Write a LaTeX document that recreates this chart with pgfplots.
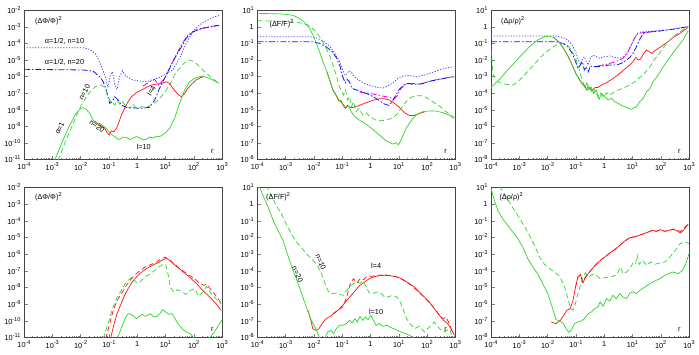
\documentclass[border=0pt]{standalone}
\usepackage{fontspec}
\setmainfont{Liberation Sans}
\usepackage{pgfplots}
\pgfplotsset{compat=1.18}
\newcommand\sps[1]{\raisebox{0.42em}{\fontsize{5.6}{6}\selectfont #1}}
\definecolor{colg}{RGB}{40,215,40}
\definecolor{colr}{RGB}{250,20,20}
\definecolor{colb}{RGB}{20,20,235}
\definecolor{colbl}{RGB}{70,70,245}
\definecolor{colm}{RGB}{235,0,235}
\definecolor{colax}{RGB}{70,70,70}
\tikzset{
 gs/.style={colg, line width=0.7pt},
 gd/.style={colg, line width=0.7pt, dash pattern=on 5pt off 3pt},
 rs/.style={colr, line width=0.7pt},
 rd/.style={colr, line width=0.7pt, dash pattern=on 5pt off 3pt},
 bdot/.style={colbl, line width=0.8pt, dash pattern=on 1.2pt off 1.6pt},
 bdd/.style={colb, line width=0.8pt, dash pattern=on 6pt off 2pt on 1.5pt off 2pt},
 mdd/.style={colm, line width=0.8pt, dash pattern=on 6pt off 2pt on 1.5pt off 2pt},
 lab/.style={font=\fontsize{7.3}{8}\selectfont, inner sep=0pt},
}
\begin{document}
\begin{tikzpicture}
\useasboundingbox (0,0) rectangle (699pt,354pt);
%================ P1 =================
\begin{axis}[scale only axis, anchor=south west, at={(24pt,194.5pt)}, width=198pt, height=149.5pt,
  xmode=log, ymode=log, xmin=1e-4, xmax=1e3,
  xtick={1e-4,1e-3,1e-2,1e-1,1,1e1,1e2,1e3},
  xticklabels={10\sps{-4},10\sps{-3},10\sps{-2},10\sps{-1},1,10\sps{1},10\sps{2},10\sps{3}},
  ymin=1e-11, ymax=1e-2,
  ytick={1e-11,1e-10,1e-9,1e-8,1e-7,1e-6,1e-5,1e-4,1e-3,1e-2},
  yticklabels={10\sps{-11},10\sps{-10},10\sps{-9},10\sps{-8},10\sps{-7},10\sps{-6},10\sps{-5},10\sps{-4},10\sps{-3},10\sps{-2}},
  tick label style={font=\fontsize{7.3}{8}\selectfont},
  xtick pos=left, ytick pos=left, yminorticks=false,
  tick align=inside, major tick length=4pt, minor tick length=2pt,
  axis line style={line width=0.6pt, colax}, clip mode=individual]
\addplot[bdot] table[x expr={pow(10,\thisrowno{0})},y expr={pow(10,\thisrowno{1})}] {
-4 -4.27
-1.91 -4.27
-1.67 -4.37
-1.44 -4.71
-1.26 -5.41
-1.11 -6.12
-1.03 -6.66
-0.95 -5.92
-0.87 -5.72
-0.79 -6.52
-0.71 -6.78
-0.62 -6.02
-0.52 -5.66
-0.40 -5.98
-0.15 -6.22
0.32 -6.32
0.79 -6.06
1.26 -5.61
1.50 -4.91
1.73 -4.01
1.97 -3.31
2.20 -2.90
2.44 -2.64
2.68 -2.44
2.90 -2.33
};
\addplot[mdd] table[x expr={pow(10,\thisrowno{0})},y expr={pow(10,\thisrowno{1})}] {
0.21 -6.58
0.44 -6.32
0.62 -6.18
0.77 -6.52
0.97 -6.12
1.26 -5.11
1.56 -4.11
1.79 -3.51
2.09 -3.20
2.44 -3.04
2.90 -2.90
};
\addplot[bdd] table[x expr={pow(10,\thisrowno{0})},y expr={pow(10,\thisrowno{1})}] {
-4 -5.57
-1.91 -5.61
-1.56 -5.68
-1.32 -6.02
-1.20 -6.32
-1.09 -6.82
-0.97 -7.62
-0.87 -7.52
-0.79 -7.22
-0.67 -7.42
-0.56 -7.72
-0.38 -7.86
0.09 -7.92
0.44 -7.86
0.62 -7.42
0.79 -6.72
1.03 -5.92
1.26 -5.11
1.50 -4.41
1.73 -3.71
1.97 -3.31
2.32 -3.10
2.68 -3.00
2.90 -2.92
};
\addplot[rs] table[x expr={pow(10,\thisrowno{0})},y expr={pow(10,\thisrowno{1})}] {
-1.50 -8.67
-1.38 -8.87
-1.26 -8.99
-1.14 -9.13
-1.06 -9.39
-0.99 -9.53
-0.91 -9.27
-0.83 -9.33
-0.73 -9.13
-0.64 -8.73
-0.56 -8.33
-0.44 -7.92
-0.32 -7.52
-0.20 -7.22
-0.03 -6.98
0.15 -6.82
0.32 -6.66
0.50 -6.52
0.68 -6.46
0.85 -6.42
1.03 -6.32
1.15 -6.42
1.24 -6.66
1.36 -6.92
1.48 -7.12
1.56 -7.22
1.68 -7.02
1.79 -6.72
1.95 -6.42
2.11 -6.18
2.26 -6.06
2.38 -6.00
};
\addplot[gd] table[x expr={pow(10,\thisrowno{0})},y expr={pow(10,\thisrowno{1})}] {
-2.79 -11.04
-2.56 -10.03
-2.36 -9.23
-2.14 -8.33
-1.97 -7.72
-1.79 -7.22
-1.62 -6.82
-1.44 -6.58
-1.26 -6.52
-1.14 -6.66
-1.06 -7.02
-0.97 -7.42
-0.87 -7.58
-0.79 -7.72
-0.71 -7.42
-0.62 -7.66
-0.52 -7.52
-0.40 -7.78
-0.26 -7.92
-0.15 -7.66
-0.03 -7.92
0.15 -7.82
0.32 -7.86
0.50 -7.72
0.68 -7.52
0.85 -7.22
1.03 -6.82
1.17 -6.42
1.32 -5.92
1.50 -5.51
1.68 -5.17
1.82 -5.01
1.97 -5.07
2.15 -5.31
2.32 -5.61
2.56 -5.98
2.79 -6.28
2.90 -6.42
};
\addplot[gs] table[x expr={pow(10,\thisrowno{0})},y expr={pow(10,\thisrowno{1})}] {
-2.95 -11.2
-2.67 -10.03
-2.44 -9.13
-2.20 -8.33
-2.03 -7.98
-1.93 -7.88
-1.81 -7.96
-1.67 -8.23
-1.56 -8.63
-1.44 -8.79
-1.32 -8.83
-1.18 -8.99
-1.06 -9.19
-0.95 -9.43
-0.79 -9.63
-0.70 -9.75
-0.62 -9.79
-0.50 -9.65
-0.38 -9.67
-0.26 -9.80
-0.15 -9.73
-0.03 -9.62
0.09 -9.70
0.21 -9.82
0.32 -9.79
0.44 -9.64
0.56 -9.71
0.68 -9.60
0.79 -9.63
0.97 -9.43
1.15 -9.13
1.32 -8.53
1.50 -7.62
1.68 -6.82
1.85 -6.32
2.09 -6.06
2.32 -5.98
2.56 -6.12
2.79 -6.32
2.90 -6.42
};
\node[lab, anchor=west] at (rel axis cs:0.055,0.925) {(ΔΦ/Φ)\sps{2}};
\node[lab, anchor=west] at (rel axis cs:0.105,0.79) {α=1/2, n=10};
\node[lab, anchor=west] at (rel axis cs:0.105,0.65) {α=1/2, n=20};
\node[lab, rotate=63] at (rel axis cs:0.305,0.45) {n=10};
\node[lab, rotate=65] at (rel axis cs:0.18,0.21) {α=1};
\node[lab, rotate=-37] at (rel axis cs:0.369,0.224) {n=20};
\node[lab, rotate=60] at (rel axis cs:0.643,0.46) {l=4};
\node[lab] at (rel axis cs:0.605,0.086) {l=10};
\node[lab] at (rel axis cs:0.951,0.05) {r};
\end{axis}
%================ P2 =================
\begin{axis}[scale only axis, anchor=south west, at={(257.3pt,194.5pt)}, width=198pt, height=149.5pt,
  xmode=log, ymode=log, xmin=1e-4, xmax=1e3,
  xtick={1e-4,1e-3,1e-2,1e-1,1,1e1,1e2,1e3},
  xticklabels={10\sps{-4},10\sps{-3},10\sps{-2},10\sps{-1},1,10\sps{1},10\sps{2},10\sps{3}},
  ymin=1e-8, ymax=10,
  ytick={1e-8,1e-7,1e-6,1e-5,1e-4,1e-3,1e-2,1e-1,1,10},
  yticklabels={10\sps{-8},10\sps{-7},10\sps{-6},10\sps{-5},10\sps{-4},10\sps{-3},10\sps{-2},10\sps{-1},1,10\sps{1}},
  tick label style={font=\fontsize{7.3}{8}\selectfont},
  xtick pos=left, ytick pos=left, yminorticks=false,
  tick align=inside, major tick length=4pt, minor tick length=2pt,
  axis line style={line width=0.6pt, colax}, clip mode=individual]
\addplot[bdot] table[x expr={pow(10,\thisrowno{0})},y expr={pow(10,\thisrowno{1})}] {
-4 -0.61
-2.15 -0.61
-1.92 -0.67
-1.68 -0.85
-1.45 -1.17
-1.27 -1.57
-1.12 -2.01
-1.00 -2.51
-0.92 -2.92
-0.84 -2.86
-0.77 -2.66
-0.68 -2.72
-0.62 -2.92
-0.53 -3.06
-0.41 -3.22
-0.21 -3.42
0.02 -3.56
0.26 -3.66
0.44 -3.70
0.61 -3.58
0.79 -3.38
0.97 -3.12
1.14 -2.98
1.38 -2.94
1.61 -3.02
1.85 -2.94
2.08 -2.82
2.32 -2.68
2.55 -2.55
2.79 -2.45
2.96 -2.41
};
\addplot[mdd] table[x expr={pow(10,\thisrowno{0})},y expr={pow(10,\thisrowno{1})}] {
-0.39 -3.94
-0.04 -4.02
0.32 -4.14
0.61 -4.24
0.85 -4.34
0.96 -4.12
1.08 -3.72
1.26 -3.46
1.55 -3.42
1.79 -3.46
2.08 -3.28
2.44 -3.16
2.96 -3.00
};
\addplot[bdd] table[x expr={pow(10,\thisrowno{0})},y expr={pow(10,\thisrowno{1})}] {
-4 -0.91
-2.04 -0.91
-1.80 -1.01
-1.57 -1.21
-1.35 -1.51
-1.19 -1.91
-1.07 -2.41
-0.98 -3.02
-0.89 -3.38
-0.82 -3.18
-0.74 -3.32
-0.67 -3.66
-0.57 -3.78
-0.39 -3.86
-0.21 -3.98
-0.04 -4.10
0.14 -4.26
0.32 -4.46
0.49 -4.66
0.65 -4.74
0.77 -4.52
0.88 -4.18
1.02 -3.78
1.17 -3.52
1.32 -3.42
1.49 -3.46
1.67 -3.48
1.85 -3.42
2.08 -3.30
2.32 -3.22
2.55 -3.14
2.79 -3.06
2.96 -3.02
};
\addplot[rs] table[x expr={pow(10,\thisrowno{0})},y expr={pow(10,\thisrowno{1})}] {
-1.54 -2.71
-1.42 -3.32
-1.33 -3.82
-1.21 -4.16
-1.12 -4.46
-1.04 -4.52
-0.95 -4.78
-0.88 -4.92
-0.81 -4.74
-0.72 -4.88
-0.60 -4.86
-0.45 -4.78
-0.27 -4.66
-0.09 -4.54
0.08 -4.44
0.32 -4.34
0.49 -4.34
0.67 -4.42
0.85 -4.62
1.02 -4.86
1.20 -5.18
1.38 -5.35
1.55 -5.35
1.73 -5.22
1.91 -5.14
};
\addplot[gd] table[x expr={pow(10,\thisrowno{0})},y expr={pow(10,\thisrowno{1})}] {
-4 0.36
-3.09 0.32
-2.51 0.24
-2.21 0.10
-1.98 -0.21
-1.78 -0.65
-1.59 -1.21
-1.45 -1.71
-1.33 -2.31
-1.21 -2.92
-1.12 -3.52
-1.04 -3.82
-0.95 -4.12
-0.88 -3.82
-0.81 -4.42
-0.74 -4.22
-0.67 -4.82
-0.60 -4.52
-0.51 -5.12
-0.41 -4.92
-0.27 -5.33
-0.15 -5.19
0.02 -5.47
0.20 -5.63
0.38 -5.67
0.55 -5.63
0.73 -5.53
0.91 -5.33
1.08 -4.92
1.26 -4.52
1.44 -4.26
1.61 -4.16
1.79 -4.16
1.97 -4.26
2.20 -4.52
2.44 -4.78
2.67 -5.12
2.96 -5.47
};
\addplot[gs] table[x expr={pow(10,\thisrowno{0})},y expr={pow(10,\thisrowno{1})}] {
-4 0.80
-3.09 0.76
-2.74 0.68
-2.51 0.50
-2.33 0.24
-2.15 -0.10
-1.98 -0.71
-1.82 -1.41
-1.68 -2.11
-1.54 -2.71
-1.42 -3.32
-1.33 -3.78
-1.21 -4.12
-1.12 -4.42
-1.04 -4.46
-0.95 -4.72
-0.86 -4.86
-0.77 -4.78
-0.68 -5.12
-0.57 -5.39
-0.39 -5.63
-0.15 -5.87
0.08 -6.19
0.32 -6.53
0.55 -6.87
0.79 -7.07
0.91 -6.99
0.99 -7.11
1.08 -6.83
1.26 -6.13
1.44 -5.67
1.61 -5.33
1.85 -5.12
2.08 -5.08
2.32 -5.08
2.55 -5.18
2.79 -5.33
2.96 -5.53
};
\node[lab, anchor=west] at (rel axis cs:0.061,0.905) {(ΔF/F)\sps{2}};
\node[lab] at (rel axis cs:0.951,0.05) {r};
\end{axis}
%================ P3 =================
\begin{axis}[scale only axis, anchor=south west, at={(491pt,194.5pt)}, width=198pt, height=149.5pt,
  xmode=log, ymode=log, xmin=1e-4, xmax=1e3,
  xtick={1e-4,1e-3,1e-2,1e-1,1,1e1,1e2,1e3},
  xticklabels={10\sps{-4},10\sps{-3},10\sps{-2},10\sps{-1},1,10\sps{1},10\sps{2},10\sps{3}},
  ymin=1e-8, ymax=10,
  ytick={1e-8,1e-7,1e-6,1e-5,1e-4,1e-3,1e-2,1e-1,1,10},
  yticklabels={10\sps{-8},10\sps{-7},10\sps{-6},10\sps{-5},10\sps{-4},10\sps{-3},10\sps{-2},10\sps{-1},1,10\sps{1}},
  tick label style={font=\fontsize{7.3}{8}\selectfont},
  xtick pos=left, ytick pos=left, yminorticks=false,
  tick align=inside, major tick length=4pt, minor tick length=2pt,
  axis line style={line width=0.6pt, colax}, clip mode=individual]
\addplot[bdot] table[x expr={pow(10,\thisrowno{0})},y expr={pow(10,\thisrowno{1})}] {
-4 -0.57
-1.70 -0.57
-1.46 -0.65
-1.28 -0.81
-1.13 -1.11
-1.01 -1.51
-0.92 -1.97
-0.84 -2.25
-0.77 -1.97
-0.70 -1.81
-0.63 -2.11
-0.56 -2.31
-0.49 -1.91
-0.40 -1.71
-0.28 -1.81
-0.16 -1.91
0.02 -1.81
0.20 -1.77
0.37 -1.85
0.55 -1.91
0.69 -1.81
0.81 -1.57
0.93 -1.21
1.05 -0.77
1.17 -0.41
1.32 -0.31
1.56 -0.29
1.85 -0.25
2.21 -0.21
2.56 -0.12
2.97 0.00
};
\addplot[mdd] table[x expr={pow(10,\thisrowno{0})},y expr={pow(10,\thisrowno{1})}] {
-0.22 -2.37
0.08 -2.27
0.37 -2.13
0.61 -1.97
0.79 -1.71
0.93 -1.21
1.05 -0.77
1.20 -0.41
1.50 -0.33
1.85 -0.27
};
\addplot[bdd] table[x expr={pow(10,\thisrowno{0})},y expr={pow(10,\thisrowno{1})}] {
-4 -0.91
-1.70 -0.91
-1.46 -1.01
-1.28 -1.21
-1.13 -1.61
-1.01 -2.11
-0.92 -2.51
-0.84 -2.31
-0.77 -2.11
-0.70 -2.61
-0.63 -2.41
-0.56 -2.72
-0.49 -2.37
-0.40 -2.41
-0.22 -2.41
-0.04 -2.37
0.20 -2.31
0.43 -2.31
0.61 -2.21
0.76 -2.05
0.91 -1.85
1.02 -1.61
1.14 -1.21
1.26 -0.77
1.38 -0.41
1.56 -0.33
1.85 -0.29
2.21 -0.21
2.56 -0.12
2.97 0.00
};
\addplot[rs] table[x expr={pow(10,\thisrowno{0})},y expr={pow(10,\thisrowno{1})}] {
-1.79 -0.65
-1.60 -0.91
-1.44 -1.31
-1.28 -1.77
-1.13 -2.31
-0.99 -2.86
-0.87 -3.18
-0.77 -3.46
-0.69 -3.58
-0.61 -3.82
-0.51 -3.66
-0.42 -3.86
-0.32 -3.66
-0.22 -3.66
-0.10 -3.52
0.08 -3.38
0.26 -3.18
0.43 -2.98
0.61 -2.73
0.76 -2.51
0.91 -2.31
1.02 -2.11
1.12 -1.85
1.20 -2.01
1.28 -1.97
1.40 -1.61
1.50 -1.41
1.59 -1.51
1.69 -1.61
1.79 -1.45
1.97 -1.25
2.21 -0.97
2.44 -0.65
2.68 -0.41
2.97 -0.04
};
\addplot[gd] table[x expr={pow(10,\thisrowno{0})},y expr={pow(10,\thisrowno{1})}] {
-4 -1.41
-3.92 -2.92
-3.76 -3.32
-3.53 -3.46
-3.23 -3.52
-3.05 -3.32
-2.82 -2.92
-2.52 -2.37
-2.23 -1.81
-1.93 -1.37
-1.70 -1.11
-1.52 -1.01
-1.34 -1.05
-1.16 -1.37
-1.01 -1.91
-0.89 -2.51
-0.81 -3.06
-0.73 -3.42
-0.63 -3.78
-0.54 -3.52
-0.42 -4.06
-0.32 -3.82
-0.22 -4.22
-0.14 -3.98
-0.02 -4.26
0.08 -3.98
0.20 -4.12
0.37 -3.92
0.55 -3.78
0.73 -3.66
0.91 -3.52
1.08 -3.32
1.26 -3.06
1.44 -2.78
1.62 -2.41
1.79 -1.97
1.97 -1.57
2.21 -1.01
2.44 -0.61
2.68 -0.31
2.97 0.00
};
\addplot[gs] table[x expr={pow(10,\thisrowno{0})},y expr={pow(10,\thisrowno{1})}] {
-4 -3.66
-3.70 -3.18
-3.35 -2.51
-3.00 -1.85
-2.64 -1.21
-2.35 -0.81
-2.11 -0.61
-1.96 -0.57
-1.79 -0.65
-1.60 -0.91
-1.44 -1.31
-1.28 -1.77
-1.13 -2.31
-0.99 -2.86
-0.87 -3.22
-0.77 -3.42
-0.68 -3.66
-0.61 -3.38
-0.54 -3.78
-0.45 -3.66
-0.37 -4.02
-0.28 -3.82
-0.18 -4.38
-0.09 -4.02
0.02 -4.22
0.14 -4.42
0.26 -4.32
0.37 -4.52
0.49 -4.62
0.65 -4.78
0.79 -4.86
0.93 -4.98
1.02 -4.92
1.14 -4.82
1.26 -4.52
1.38 -4.32
1.50 -3.92
1.62 -3.72
1.73 -3.32
1.91 -2.92
2.09 -2.41
2.27 -1.97
2.44 -1.57
2.62 -1.17
2.80 -0.77
2.97 -0.25
};
\node[lab, anchor=west] at (rel axis cs:0.05,0.93) {(Δρ/ρ)\sps{2}};
\node[lab] at (rel axis cs:0.951,0.05) {r};
\end{axis}
%================ P4 =================
\begin{axis}[scale only axis, anchor=south west, at={(24pt,16.5pt)}, width=198pt, height=150pt,
  xmode=log, ymode=log, xmin=1e-4, xmax=1e3,
  xtick={1e-4,1e-3,1e-2,1e-1,1,1e1,1e2,1e3},
  xticklabels={10\sps{-4},10\sps{-3},10\sps{-2},10\sps{-1},1,10\sps{1},10\sps{2},10\sps{3}},
  ymin=1e-11, ymax=1e-2,
  ytick={1e-11,1e-10,1e-9,1e-8,1e-7,1e-6,1e-5,1e-4,1e-3,1e-2},
  yticklabels={10\sps{-11},10\sps{-10},10\sps{-9},10\sps{-8},10\sps{-7},10\sps{-6},10\sps{-5},10\sps{-4},10\sps{-3},10\sps{-2}},
  tick label style={font=\fontsize{7.3}{8}\selectfont},
  xtick pos=left, ytick pos=left, yminorticks=false,
  tick align=inside, major tick length=4pt, minor tick length=2pt,
  axis line style={line width=0.6pt, colax}, clip mode=individual]
\addplot[rd] table[x expr={pow(10,\thisrowno{0})},y expr={pow(10,\thisrowno{1})}] {
-1.11 -11.07
-0.97 -10.17
-0.83 -9.27
-0.67 -8.67
-0.52 -8.27
-0.38 -7.87
-0.20 -7.47
-0.03 -7.17
0.15 -6.93
0.32 -6.73
0.50 -6.61
0.68 -6.47
0.85 -6.29
0.99 -6.17
1.15 -6.33
1.32 -6.61
1.56 -6.93
1.79 -7.21
2.03 -7.47
2.20 -7.73
2.35 -7.87
2.46 -7.81
2.58 -8.07
2.73 -8.37
2.97 -8.93
};
\addplot[rs] table[x expr={pow(10,\thisrowno{0})},y expr={pow(10,\thisrowno{1})}] {
-0.94 -11.07
-0.83 -10.27
-0.71 -9.57
-0.59 -9.07
-0.47 -8.57
-0.32 -8.07
-0.15 -7.61
0.03 -7.27
0.21 -7.01
0.38 -6.81
0.56 -6.65
0.74 -6.51
0.91 -6.33
1.03 -6.25
1.15 -6.37
1.29 -6.59
1.56 -6.97
1.85 -7.37
2.09 -7.75
2.26 -8.07
2.44 -8.37
2.62 -8.67
2.79 -8.97
2.97 -9.37
};
\addplot[gd] table[x expr={pow(10,\thisrowno{0})},y expr={pow(10,\thisrowno{1})}] {
-1.20 -11.07
-1.03 -10.17
-0.87 -9.27
-0.73 -8.67
-0.59 -8.27
-0.44 -7.81
-0.29 -7.53
-0.17 -7.37
-0.05 -7.67
0.07 -7.73
0.18 -7.53
0.32 -7.33
0.47 -7.17
0.62 -6.97
0.77 -6.77
0.91 -6.61
1.01 -6.61
1.09 -7.17
1.17 -7.97
1.29 -8.27
1.44 -8.13
1.59 -8.27
1.73 -8.41
1.88 -8.17
2.03 -8.07
2.18 -8.53
2.32 -8.27
2.46 -7.93
2.62 -8.37
2.79 -8.67
2.97 -8.97
};
\addplot[gs] table[x expr={pow(10,\thisrowno{0})},y expr={pow(10,\thisrowno{1})}] {
-0.71 -11.07
-0.59 -10.57
-0.50 -10.17
-0.40 -9.77
-0.31 -9.57
-0.22 -9.61
-0.12 -9.73
-0.03 -9.87
0.07 -9.73
0.18 -9.61
0.28 -9.73
0.37 -9.67
0.47 -9.57
0.58 -9.77
0.70 -9.73
0.82 -9.53
0.91 -9.33
1.01 -9.47
1.12 -9.61
1.22 -9.57
1.31 -9.77
1.44 -10.17
1.59 -10.47
1.73 -10.67
1.88 -10.77
2.03 -11.07
2.25 -11.5
2.53 -11.07
2.73 -10.67
2.91 -10.17
3.00 -9.97
};
\node[lab, anchor=west] at (rel axis cs:0.055,0.935) {(ΔΦ/Φ)\sps{2}};
\node[lab] at (rel axis cs:0.951,0.05) {r};
\end{axis}
%================ P5 =================
\begin{axis}[scale only axis, anchor=south west, at={(257.3pt,16.5pt)}, width=198pt, height=150pt,
  xmode=log, ymode=log, xmin=1e-4, xmax=1e3,
  xtick={1e-4,1e-3,1e-2,1e-1,1,1e1,1e2,1e3},
  xticklabels={10\sps{-4},10\sps{-3},10\sps{-2},10\sps{-1},1,10\sps{1},10\sps{2},10\sps{3}},
  ymin=1e-8, ymax=10,
  ytick={1e-8,1e-7,1e-6,1e-5,1e-4,1e-3,1e-2,1e-1,1,10},
  yticklabels={10\sps{-8},10\sps{-7},10\sps{-6},10\sps{-5},10\sps{-4},10\sps{-3},10\sps{-2},10\sps{-1},1,10\sps{1}},
  tick label style={font=\fontsize{7.3}{8}\selectfont},
  xtick pos=left, ytick pos=left, yminorticks=false,
  tick align=inside, major tick length=4pt, minor tick length=2pt,
  axis line style={line width=0.6pt, colax}, clip mode=individual]
\addplot[rd] table[x expr={pow(10,\thisrowno{0})},y expr={pow(10,\thisrowno{1})}] {
-1.33 -6.57
-1.12 -6.33
-0.98 -6.17
-0.84 -5.57
-0.72 -4.81
-0.60 -4.47
-0.48 -4.73
-0.36 -4.47
-0.25 -4.53
-0.15 -4.37
0.02 -4.33
0.20 -4.29
0.38 -4.25
0.55 -4.25
0.73 -4.29
0.91 -4.35
1.08 -4.47
1.26 -4.67
1.44 -4.87
1.61 -5.13
1.79 -5.41
1.96 -5.69
2.14 -6.01
2.32 -6.37
2.46 -6.73
2.58 -6.87
2.67 -6.77
2.79 -7.17
2.91 -7.77
};
\addplot[rs] table[x expr={pow(10,\thisrowno{0})},y expr={pow(10,\thisrowno{1})}] {
-2.21 -6.37
-2.09 -7.07
-2.04 -7.47
-1.92 -7.57
-1.82 -7.47
-1.71 -7.17
-1.57 -6.87
-1.42 -6.73
-1.27 -6.53
-1.12 -6.33
-0.98 -6.07
-0.84 -5.77
-0.68 -5.47
-0.53 -5.17
-0.39 -4.89
-0.21 -4.67
-0.04 -4.47
0.14 -4.35
0.32 -4.29
0.49 -4.27
0.67 -4.29
0.85 -4.33
1.02 -4.41
1.20 -4.57
1.38 -4.77
1.55 -4.97
1.73 -5.27
1.91 -5.57
2.08 -5.87
2.26 -6.27
2.44 -6.67
2.58 -6.97
2.73 -7.17
2.85 -7.47
2.97 -7.87
};
\addplot[gd] table[x expr={pow(10,\thisrowno{0})},y expr={pow(10,\thisrowno{1})}] {
-3.68 1.13
-3.51 0.53
-3.33 -0.07
-3.15 -0.57
-2.98 -1.17
-2.80 -1.77
-2.62 -2.27
-2.45 -2.57
-2.27 -2.97
-2.09 -3.27
-1.92 -3.57
-1.78 -3.97
-1.66 -4.47
-1.57 -4.97
-1.47 -5.27
-1.35 -5.37
-1.21 -5.33
-1.07 -5.41
-0.95 -5.47
-0.84 -5.17
-0.72 -4.93
-0.60 -4.77
-0.48 -4.67
-0.37 -4.73
-0.25 -4.61
-0.15 -4.97
-0.04 -5.33
0.08 -5.37
0.22 -5.27
0.38 -5.37
0.53 -5.61
0.67 -5.53
0.81 -5.47
0.93 -5.57
1.05 -5.87
1.17 -6.37
1.28 -6.87
1.40 -7.17
1.55 -7.47
1.73 -7.33
1.91 -7.67
2.08 -7.37
2.26 -7.07
2.44 -7.47
2.61 -7.67
2.79 -7.47
2.93 -8.07
};
\addplot[gs] table[x expr={pow(10,\thisrowno{0})},y expr={pow(10,\thisrowno{1})}] {
-3.94 1.13
-3.80 0.53
-3.62 -0.17
-3.45 -0.93
-3.27 -1.57
-3.09 -2.17
-2.92 -3.07
-2.76 -3.87
-2.62 -4.47
-2.45 -5.27
-2.27 -6.17
-2.09 -6.97
-1.92 -7.53
-1.78 -8.07
};
\addplot[gs] table[x expr={pow(10,\thisrowno{0})},y expr={pow(10,\thisrowno{1})}] {
-1.62 -8.07
-1.51 -7.67
-1.39 -7.57
-1.31 -7.77
-1.21 -7.47
-1.09 -7.27
-0.98 -7.27
-0.86 -7.17
-0.74 -6.97
-0.65 -7.13
-0.55 -6.87
-0.46 -7.07
-0.37 -6.73
-0.27 -6.97
-0.18 -6.77
-0.08 -6.93
0.01 -6.67
0.11 -6.97
0.20 -7.27
0.32 -7.17
0.44 -7.33
0.58 -7.27
0.73 -7.41
0.91 -7.53
1.08 -7.67
1.26 -7.77
1.44 -7.93
1.55 -8.07
};
\node[lab, anchor=west] at (rel axis cs:0.044,0.94) {(ΔF/F)\sps{2}};
\node[lab, rotate=-67] at (rel axis cs:0.321,0.503) {n=10};
\node[lab, rotate=-65] at (rel axis cs:0.204,0.421) {n=20};
\node[lab] at (rel axis cs:0.6,0.475) {l=4};
\node[lab] at (rel axis cs:0.6,0.17) {l=10};
\node[lab] at (rel axis cs:0.951,0.05) {r};
\end{axis}
%================ P6 =================
\begin{axis}[scale only axis, anchor=south west, at={(491pt,16.5pt)}, width=198pt, height=150pt,
  xmode=log, ymode=log, xmin=1e-4, xmax=1e3,
  xtick={1e-4,1e-3,1e-2,1e-1,1,1e1,1e2,1e3},
  xticklabels={10\sps{-4},10\sps{-3},10\sps{-2},10\sps{-1},1,10\sps{1},10\sps{2},10\sps{3}},
  ymin=1e-8, ymax=10,
  ytick={1e-8,1e-7,1e-6,1e-5,1e-4,1e-3,1e-2,1e-1,1,10},
  yticklabels={10\sps{-8},10\sps{-7},10\sps{-6},10\sps{-5},10\sps{-4},10\sps{-3},10\sps{-2},10\sps{-1},1,10\sps{1}},
  tick label style={font=\fontsize{7.3}{8}\selectfont},
  xtick pos=left, ytick pos=left, yminorticks=false,
  tick align=inside, major tick length=4pt, minor tick length=2pt,
  axis line style={line width=0.6pt, colax}, clip mode=individual]
\addplot[rd] table[x expr={pow(10,\thisrowno{0})},y expr={pow(10,\thisrowno{1})}] {
-1.01 -4.97
-0.93 -4.37
-0.84 -4.25
-0.75 -4.65
-0.65 -4.33
-0.54 -4.13
-0.42 -3.87
-0.28 -3.61
-0.13 -3.37
0.02 -3.17
0.20 -2.93
0.37 -2.73
0.55 -2.47
0.73 -2.21
0.91 -2.01
1.08 -1.95
1.24 -1.87
1.40 -1.77
1.56 -1.67
1.71 -1.57
1.85 -1.63
1.99 -1.53
2.15 -1.63
2.30 -1.57
2.44 -1.49
2.58 -1.55
2.70 -1.65
2.82 -1.45
2.97 -1.19
};
\addplot[rs] table[x expr={pow(10,\thisrowno{0})},y expr={pow(10,\thisrowno{1})}] {
-1.87 -7.07
-1.70 -7.17
-1.55 -6.97
-1.43 -6.67
-1.32 -6.37
-1.20 -6.27
-1.10 -5.77
-1.01 -4.97
-0.93 -4.37
-0.84 -4.21
-0.75 -4.73
-0.65 -4.37
-0.54 -4.13
-0.42 -3.87
-0.28 -3.61
-0.13 -3.37
0.02 -3.17
0.20 -2.93
0.37 -2.73
0.55 -2.47
0.73 -2.21
0.91 -2.01
1.08 -1.97
1.24 -1.87
1.40 -1.77
1.56 -1.67
1.71 -1.57
1.85 -1.63
1.99 -1.53
2.15 -1.63
2.30 -1.57
2.44 -1.51
2.58 -1.61
2.70 -1.73
2.82 -1.53
2.97 -1.21
};
\addplot[gd] table[x expr={pow(10,\thisrowno{0})},y expr={pow(10,\thisrowno{1})}] {
-3.70 1.07
-3.53 0.63
-3.35 0.13
-3.17 -0.37
-3.00 -0.81
-2.82 -1.33
-2.64 -1.87
-2.46 -2.47
-2.29 -3.17
-2.11 -3.61
-1.93 -3.87
-1.75 -4.07
-1.58 -4.33
-1.44 -4.77
-1.34 -5.27
-1.25 -5.87
-1.18 -6.27
-1.10 -6.37
-1.03 -6.07
-0.94 -5.47
-0.84 -4.87
-0.75 -4.37
-0.66 -4.13
-0.54 -4.37
-0.42 -4.21
-0.28 -4.27
-0.14 -4.47
0.02 -4.41
0.17 -4.37
0.31 -4.33
0.46 -4.21
0.57 -3.77
0.67 -4.17
0.79 -4.07
0.91 -3.87
1.02 -3.53
1.11 -3.61
1.17 -3.07
1.24 -3.61
1.36 -3.37
1.50 -3.67
1.64 -3.47
1.79 -3.61
1.97 -3.53
2.15 -3.47
2.32 -3.17
2.50 -2.81
2.68 -2.37
2.86 -2.27
3.00 -2.37
};
\addplot[gs] table[x expr={pow(10,\thisrowno{0})},y expr={pow(10,\thisrowno{1})}] {
-4 0.93
-3.88 0.23
-3.76 -0.37
-3.59 -0.87
-3.41 -1.27
-3.23 -1.67
-3.05 -2.07
-2.88 -2.57
-2.70 -3.27
-2.52 -3.77
-2.35 -4.17
-2.17 -4.77
-1.99 -5.37
-1.84 -6.17
-1.70 -6.93
-1.55 -7.01
-1.44 -7.17
-1.34 -7.47
-1.25 -7.69
-1.15 -7.53
-1.05 -7.17
-0.93 -7.07
-0.81 -7.01
-0.69 -6.87
-0.57 -6.57
-0.45 -6.47
-0.34 -6.27
-0.22 -6.17
-0.14 -5.87
-0.04 -6.13
0.08 -5.67
0.20 -5.81
0.31 -5.47
0.43 -5.67
0.55 -5.37
0.67 -5.57
0.79 -5.67
0.91 -5.33
1.02 -5.27
1.14 -5.37
1.26 -5.17
1.44 -4.97
1.62 -4.77
1.79 -4.61
1.97 -4.47
2.15 -4.27
2.27 -4.17
2.44 -4.07
2.62 -4.17
2.77 -3.97
2.89 -3.57
3.00 -2.97
};
\node[lab, anchor=west] at (rel axis cs:0.042,0.94) {(Δρ/ρ)\sps{2}};
\node[lab] at (rel axis cs:0.951,0.05) {r};
\end{axis}
\end{tikzpicture}
\end{document}
